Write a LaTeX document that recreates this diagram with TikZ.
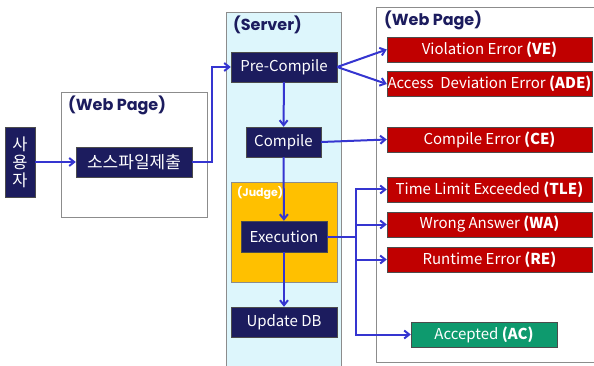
\documentclass[tikz,border=0pt]{standalone}
\usepackage{fontspec}
\setmainfont{Noto Sans CJK KR}
\newfontfamily\titlefont{Poppins}
\usetikzlibrary{positioning, arrows.meta}
\definecolor{navy}{HTML}{1C1C5E}
\definecolor{errred}{HTML}{C00000}
\definecolor{okgreen}{HTML}{0E9A6E}
\definecolor{flowblue}{HTML}{3535D0}
\definecolor{serverbg}{HTML}{DDF6FC}
\definecolor{judgebg}{HTML}{FFC000}

\begin{document}
\begin{tikzpicture}[x=1pt, y=-1pt,
  box/.style={draw=black!70, text=white, inner sep=0pt,
    font=\fontsize{15}{17}\selectfont},
  navybox/.style={box, fill=navy, minimum height=30},
  errbox/.style={box, fill=errred, minimum width=205, minimum height=25},
  okbox/.style={box, fill=okgreen, minimum width=146, minimum height=25},
  frame/.style={draw=black!45, line width=0.8pt, inner sep=0pt},
  title/.style={anchor=west, text=navy, inner sep=0pt,
    font=\titlefont\bfseries\fontsize{16}{18}\selectfont},
  flow/.style={draw=flowblue, line width=2pt, -{Straight Barb[length=5pt,width=8pt]}}]
  \useasboundingbox (0,0) rectangle (594,366);

  % containers
  \node[frame, fill=white, minimum width=146, minimum height=125] (webL) at (134,154.5) {};
  \node[frame, fill=serverbg, minimum width=115, minimum height=370] (server) at (283.5,197) {};
  \node[frame, fill=white, minimum width=224, minimum height=355] (webR) at (488,184.5) {};
  \node[frame, fill=judgebg, minimum width=106, minimum height=100] (judge) at (284,232) {};
  \node[title] (webLtitle) at (68,105) {(Web Page)};
  \node[title] (servertitle) at (233,25) {(Server)};
  \node[title] (webRtitle) at (384,20) {(Web Page)};
  \node[title, text=white, font=\titlefont\bfseries\fontsize{11}{13}\selectfont] (judgetitle) at (237,193) {(Judge)};

  % user side
  \node[navybox, minimum width=30, minimum height=70, align=center,
    font=\fontsize{16.5}{18}\selectfont] (user) at (20,162) {사\\용\\자};
  \node[navybox, minimum width=116, font=\fontsize{17}{19}\selectfont] (submit) at (134,162) {소스파일제출};

  % server steps
  \node[navybox, minimum width=106] (precomp) at (284,67) {Pre-Compile};
  \node[navybox, minimum width=75] (compile) at (283.5,142) {Compile};
  \node[navybox, minimum width=86, minimum height=31] (exec) at (284,236.5) {Execution};
  \node[navybox, minimum width=106] (updb) at (284,322) {Update DB};

  % results
  \node[errbox] (ve) at (489.5,49.5) {Violation Error \textbf{(VE)}};
  \node[errbox] (ade) at (489.5,84) {Access\ \ Deviation Error \textbf{(ADE)}};
  \node[errbox] (ce) at (489.5,139.5) {Compile Error \textbf{(CE)}};
  \node[errbox] (tle) at (489.5,189.5) {Time Limit Exceeded \textbf{(TLE)}};
  \node[errbox] (wa) at (489.5,224.5) {Wrong Answer \textbf{(WA)}};
  \node[errbox] (re) at (489.5,259.5) {Runtime Error \textbf{(RE)}};
  \node[okbox] (ac) at (484,334.5) {Accepted \textbf{(AC)}};

  % connectors
  \coordinate (bus) at (356,0);
  \draw[flow] (user) -- (submit);
  \draw[flow] (submit.east) -- ++(20,0) |- (precomp.west);
  \draw[flow] (precomp.east) -- (ve.west);
  \draw[flow] (precomp.east) -- (ade.west);
  \draw[flow] (precomp) -- (compile);
  \draw[flow] (compile.east) -- (ce.west);
  \draw[flow] (compile) -- (exec);
  \draw[flow] (exec) -- (updb);
  \draw[flow, -] (exec.east) -- (exec.east -| bus);
  \foreach \res in {tle, wa, re, ac}
    \draw[flow] (exec.east -| bus) |- (\res.west);
\end{tikzpicture}
\end{document}
